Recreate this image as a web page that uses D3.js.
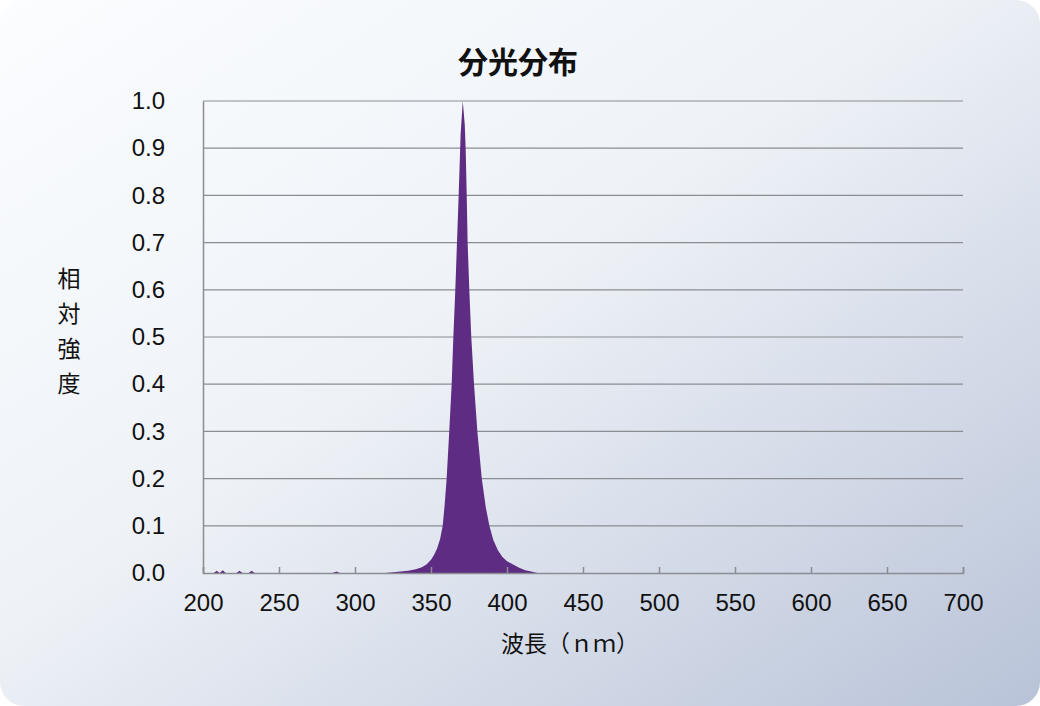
<!DOCTYPE html>
<html><head><meta charset="utf-8">
<script src="https://d3js.org/d3.v7.min.js"></script>
<style>
  body { margin: 0; background: #fff; }
  text { font-family: "Liberation Sans", "Noto Sans CJK JP", sans-serif; fill: #111; }
</style></head>
<body>
<div id="chart"></div>
<script>
  // spectrum points (nm, relative intensity)
  var wavelengths = [200, 207, 209, 211, 213, 215, 218, 222, 224, 226, 230, 232, 234, 240, 285, 288, 290, 292, 320,
    330, 335, 340, 344, 347, 350, 352, 354, 356, 357.7, 359, 360.3, 362, 363.6, 364.7, 366, 367.1, 368.2, 369.5, 370.9,
    372.2, 372.8, 373.5, 374.1, 375.2, 376.5, 378.3, 380.5, 383.4, 386, 388.4, 391, 394, 397, 400, 404, 408, 412, 416, 420, 700];
  var intensity = [0, 0, 0.005, 0, 0.006, 0, 0, 0, 0.005, 0, 0, 0.005, 0, 0, 0, 0.003, 0, 0, 0,
    0.003, 0.005, 0.008, 0.012, 0.018, 0.028, 0.038, 0.052, 0.072, 0.1, 0.145, 0.2, 0.3, 0.4, 0.5, 0.6, 0.7, 0.8, 0.93, 1.0,
    0.95, 0.9, 0.8, 0.7, 0.6, 0.5, 0.4, 0.3, 0.2, 0.14, 0.1, 0.07, 0.048, 0.034, 0.025, 0.018, 0.011, 0.006, 0.003, 0, 0];
  var xTicks = [200, 250, 300, 350, 400, 450, 500, 550, 600, 650, 700];
  var yTicks = [0, 0.1, 0.2, 0.3, 0.4, 0.5, 0.6, 0.7, 0.8, 0.9, 1.0];
  var title = "分光分布";
  var xLabel = "波長（ｎｍ）";
  var yLabel = ["相", "対", "強", "度"];

  var width = 1040, height = 706;
  var margin = { top: 101, right: 77, bottom: 133, left: 203 };

  var svg = d3.select("#chart").append("svg")
    .attr("width", width).attr("height", height);

  var grad = svg.append("defs").append("linearGradient")
    .attr("id", "bg").attr("x1", "0%").attr("y1", "0%").attr("x2", "100%").attr("y2", "100%");
  grad.append("stop").attr("offset", "0%").attr("stop-color", "#fbfdff");
  grad.append("stop").attr("offset", "45%").attr("stop-color", "#eef2f7");
  grad.append("stop").attr("offset", "100%").attr("stop-color", "#b9c3d8");

  svg.append("rect").attr("width", width).attr("height", height)
    .attr("rx", 24).attr("fill", "url(#bg)");

  var x = d3.scaleLinear().domain([200, 700]).range([margin.left, width - margin.right]);
  var y = d3.scaleLinear().domain([0, 1]).range([height - margin.bottom, margin.top]);

  // grid
  svg.append("g").selectAll("line").data(yTicks.slice(1)).join("line")
    .attr("x1", x(200)).attr("x2", x(700))
    .attr("y1", d => y(d)).attr("y2", d => y(d))
    .attr("stroke", "#8a8d92").attr("stroke-width", 1.2);

  var data = wavelengths.map((w, i) => [w, intensity[i]]);
  svg.append("path").datum(data)
    .attr("fill", "#5e2c83")
    .attr("d", d3.area().x(d => x(d[0])).y0(y(0)).y1(d => y(d[1])));

  // axes
  var xAxis = svg.append("g").attr("transform", "translate(0," + y(0) + ")")
    .call(d3.axisBottom(x).tickValues(xTicks).tickSize(-6).tickPadding(21).tickFormat(d3.format("d")));
  var yAxis = svg.append("g").attr("transform", "translate(" + x(200) + ",0)")
    .call(d3.axisLeft(y).tickValues(yTicks).tickSize(0).tickPadding(38).tickFormat(d3.format(".1f")));
  [xAxis, yAxis].forEach(g => {
    g.select(".domain").attr("stroke", "#8a8d92").attr("stroke-width", 1.5);
    g.selectAll(".tick line").attr("stroke", "#8a8d92").attr("stroke-width", 1.5);
    g.selectAll(".tick text").attr("font-size", 24).attr("fill", "#111")
      .attr("font-family", "Liberation Sans, sans-serif");
  });
  xAxis.selectAll(".tick text").attr("dy", "0.71em");

  svg.append("text").attr("x", 518).attr("y", 73).attr("text-anchor", "middle")
    .attr("font-size", 30).attr("font-weight", "bold").text(title);
  svg.append("text").attr("x", 570).attr("y", 652).attr("text-anchor", "middle")
    .attr("font-size", 23).text(xLabel);
  svg.append("g").selectAll("text").data(yLabel).join("text")
    .attr("x", 69).attr("y", (d, i) => 287 + i * 35).attr("text-anchor", "middle")
    .attr("font-size", 23).text(d => d);
</script>
</body></html>
